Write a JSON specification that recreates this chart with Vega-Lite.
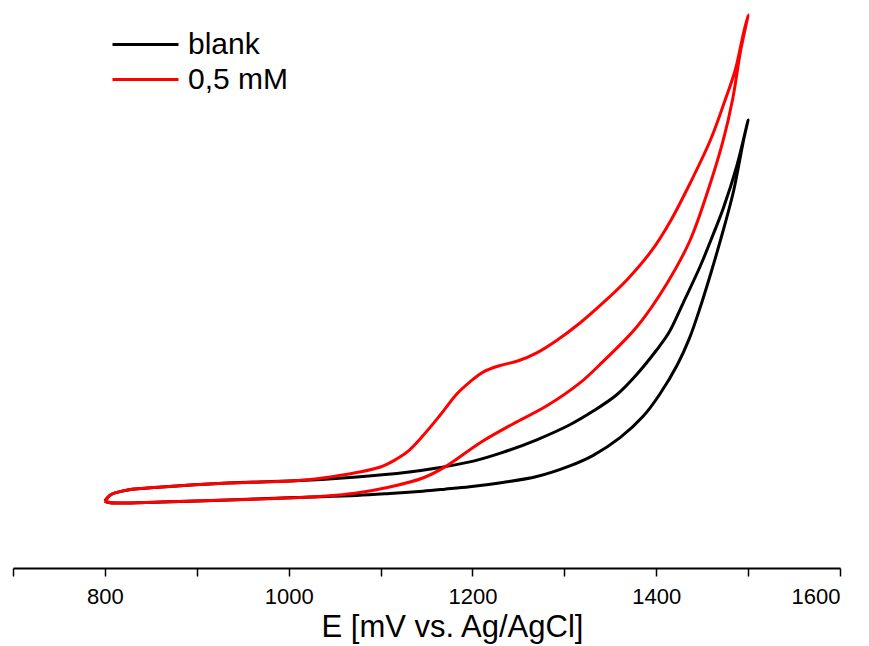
{
  "$schema": "https://vega.github.io/schema/vega-lite/v6.json",
  "width": 827,
  "height": 568,
  "padding": {"left": 13, "top": 0, "right": 29, "bottom": 78},
  "autosize": {"type": "none"},
  "background": "white",
  "config": {
    "view": {"stroke": null},
    "font": "Liberation Sans",
    "axis": {
      "grid": false,
      "domainColor": "black",
      "domainWidth": 2,
      "tickColor": "black",
      "tickWidth": 1.5,
      "tickSize": 8,
      "labelFont": "Liberation Sans",
      "labelFontSize": 22,
      "labelColor": "black",
      "labelPadding": 10,
      "titleFont": "Liberation Sans",
      "titleFontSize": 31,
      "titleFontWeight": "normal",
      "titleColor": "black",
      "titlePadding": 5
    },
    "legend": {
      "orient": "none",
      "legendX": 98,
      "legendY": 27,
      "symbolType": "stroke",
      "symbolSize": 4356,
      "symbolStrokeWidth": 3,
      "labelFont": "Liberation Sans",
      "labelFontSize": 30,
      "labelColor": "black",
      "labelOffset": 8,
      "clipHeight": 35,
      "rowPadding": 0
    }
  },
  "datasets": {
    "cv": [
      {"s": "blank", "i": 0, "E": 800, "I": 0.25},
      {"s": "blank", "i": 1, "E": 806, "I": 1.01},
      {"s": "blank", "i": 2, "E": 811, "I": 1.27},
      {"s": "blank", "i": 3, "E": 825, "I": 1.65},
      {"s": "blank", "i": 4, "E": 862, "I": 2.03},
      {"s": "blank", "i": 5, "E": 934, "I": 2.53},
      {"s": "blank", "i": 6, "E": 1007, "I": 2.8},
      {"s": "blank", "i": 7, "E": 1074, "I": 3.3},
      {"s": "blank", "i": 8, "E": 1129, "I": 3.9},
      {"s": "blank", "i": 9, "E": 1165, "I": 4.5},
      {"s": "blank", "i": 10, "E": 1201, "I": 5.3},
      {"s": "blank", "i": 11, "E": 1233, "I": 6.4},
      {"s": "blank", "i": 12, "E": 1270, "I": 8.0},
      {"s": "blank", "i": 13, "E": 1306, "I": 9.9},
      {"s": "blank", "i": 14, "E": 1331, "I": 11.6},
      {"s": "blank", "i": 15, "E": 1357, "I": 13.7},
      {"s": "blank", "i": 16, "E": 1379, "I": 16.3},
      {"s": "blank", "i": 17, "E": 1400, "I": 19.3},
      {"s": "blank", "i": 18, "E": 1414, "I": 21.6},
      {"s": "blank", "i": 19, "E": 1430, "I": 25.5},
      {"s": "blank", "i": 20, "E": 1448, "I": 30.0},
      {"s": "blank", "i": 21, "E": 1462, "I": 34.0},
      {"s": "blank", "i": 22, "E": 1473, "I": 37.3},
      {"s": "blank", "i": 23, "E": 1488, "I": 42.8},
      {"s": "blank", "i": 24, "E": 1500, "I": 48.48},
      {"s": "blank", "i": 25, "E": 1495, "I": 45.9},
      {"s": "blank", "i": 26, "E": 1484, "I": 39.4},
      {"s": "blank", "i": 27, "E": 1470, "I": 33.3},
      {"s": "blank", "i": 28, "E": 1460, "I": 29.3},
      {"s": "blank", "i": 29, "E": 1448, "I": 24.8},
      {"s": "blank", "i": 30, "E": 1436, "I": 20.8},
      {"s": "blank", "i": 31, "E": 1423, "I": 17.5},
      {"s": "blank", "i": 32, "E": 1404, "I": 13.8},
      {"s": "blank", "i": 33, "E": 1386, "I": 11.0},
      {"s": "blank", "i": 34, "E": 1361, "I": 8.3},
      {"s": "blank", "i": 35, "E": 1331, "I": 6.0},
      {"s": "blank", "i": 36, "E": 1306, "I": 4.7},
      {"s": "blank", "i": 37, "E": 1270, "I": 3.35},
      {"s": "blank", "i": 38, "E": 1233, "I": 2.6},
      {"s": "blank", "i": 39, "E": 1197, "I": 2.05},
      {"s": "blank", "i": 40, "E": 1170, "I": 1.75},
      {"s": "blank", "i": 41, "E": 1146, "I": 1.5},
      {"s": "blank", "i": 42, "E": 1110, "I": 1.2},
      {"s": "blank", "i": 43, "E": 1074, "I": 0.95},
      {"s": "blank", "i": 44, "E": 1007, "I": 0.7},
      {"s": "blank", "i": 45, "E": 934, "I": 0.38},
      {"s": "blank", "i": 46, "E": 862, "I": 0.13},
      {"s": "blank", "i": 47, "E": 811, "I": 0.0},
      {"s": "blank", "i": 48, "E": 802, "I": 0.13},
      {"s": "blank", "i": 49, "E": 800, "I": 0.25},
      {"s": "0,5 mM", "i": 0, "E": 800, "I": 0.25},
      {"s": "0,5 mM", "i": 1, "E": 806, "I": 1.01},
      {"s": "0,5 mM", "i": 2, "E": 811, "I": 1.27},
      {"s": "0,5 mM", "i": 3, "E": 825, "I": 1.65},
      {"s": "0,5 mM", "i": 4, "E": 862, "I": 2.03},
      {"s": "0,5 mM", "i": 5, "E": 934, "I": 2.53},
      {"s": "0,5 mM", "i": 6, "E": 1007, "I": 2.8},
      {"s": "0,5 mM", "i": 7, "E": 1037, "I": 3.16},
      {"s": "0,5 mM", "i": 8, "E": 1074, "I": 3.85},
      {"s": "0,5 mM", "i": 9, "E": 1100, "I": 4.56},
      {"s": "0,5 mM", "i": 10, "E": 1115, "I": 5.4},
      {"s": "0,5 mM", "i": 11, "E": 1129, "I": 6.46},
      {"s": "0,5 mM", "i": 12, "E": 1146, "I": 8.5},
      {"s": "0,5 mM", "i": 13, "E": 1165, "I": 11.14},
      {"s": "0,5 mM", "i": 14, "E": 1183, "I": 13.8},
      {"s": "0,5 mM", "i": 15, "E": 1197, "I": 15.3},
      {"s": "0,5 mM", "i": 16, "E": 1212, "I": 16.6},
      {"s": "0,5 mM", "i": 17, "E": 1230, "I": 17.4},
      {"s": "0,5 mM", "i": 18, "E": 1250, "I": 18.0},
      {"s": "0,5 mM", "i": 19, "E": 1270, "I": 19.0},
      {"s": "0,5 mM", "i": 20, "E": 1292, "I": 20.6},
      {"s": "0,5 mM", "i": 21, "E": 1317, "I": 22.78},
      {"s": "0,5 mM", "i": 22, "E": 1342, "I": 25.32},
      {"s": "0,5 mM", "i": 23, "E": 1368, "I": 28.23},
      {"s": "0,5 mM", "i": 24, "E": 1396, "I": 32.1},
      {"s": "0,5 mM", "i": 25, "E": 1416, "I": 35.8},
      {"s": "0,5 mM", "i": 26, "E": 1437, "I": 40.51},
      {"s": "0,5 mM", "i": 27, "E": 1459, "I": 45.95},
      {"s": "0,5 mM", "i": 28, "E": 1475, "I": 51.01},
      {"s": "0,5 mM", "i": 29, "E": 1486, "I": 54.81},
      {"s": "0,5 mM", "i": 30, "E": 1495, "I": 59.49},
      {"s": "0,5 mM", "i": 31, "E": 1500, "I": 61.77},
      {"s": "0,5 mM", "i": 32, "E": 1492, "I": 57.34},
      {"s": "0,5 mM", "i": 33, "E": 1483, "I": 51.01},
      {"s": "0,5 mM", "i": 34, "E": 1473, "I": 45.95},
      {"s": "0,5 mM", "i": 35, "E": 1459, "I": 40.51},
      {"s": "0,5 mM", "i": 36, "E": 1437, "I": 33.29},
      {"s": "0,5 mM", "i": 37, "E": 1412, "I": 27.85},
      {"s": "0,5 mM", "i": 38, "E": 1379, "I": 22.3},
      {"s": "0,5 mM", "i": 39, "E": 1342, "I": 17.9},
      {"s": "0,5 mM", "i": 40, "E": 1317, "I": 15.2},
      {"s": "0,5 mM", "i": 41, "E": 1281, "I": 12.3},
      {"s": "0,5 mM", "i": 42, "E": 1244, "I": 10.0},
      {"s": "0,5 mM", "i": 43, "E": 1208, "I": 7.6},
      {"s": "0,5 mM", "i": 44, "E": 1172, "I": 4.7},
      {"s": "0,5 mM", "i": 45, "E": 1146, "I": 3.16},
      {"s": "0,5 mM", "i": 46, "E": 1110, "I": 2.03},
      {"s": "0,5 mM", "i": 47, "E": 1074, "I": 1.27},
      {"s": "0,5 mM", "i": 48, "E": 1037, "I": 0.85},
      {"s": "0,5 mM", "i": 49, "E": 1002, "I": 0.63},
      {"s": "0,5 mM", "i": 50, "E": 934, "I": 0.38},
      {"s": "0,5 mM", "i": 51, "E": 862, "I": 0.13},
      {"s": "0,5 mM", "i": 52, "E": 811, "I": 0.0},
      {"s": "0,5 mM", "i": 53, "E": 802, "I": 0.13},
      {"s": "0,5 mM", "i": 54, "E": 800, "I": 0.25}
    ]
  },
  "layer": [
    {
      "data": {"name": "cv"},
      "mark": {"type": "line", "strokeWidth": 3, "interpolate": "catmull-rom", "clip": false},
      "encoding": {
        "x": {
          "field": "E",
          "type": "quantitative",
          "scale": {"domain": [700, 1600], "nice": false, "zero": false},
          "axis": {
            "title": "E [mV vs. Ag/AgCl]",
            "titleX": 439,
            "values": [700, 800, 900, 1000, 1100, 1200, 1300, 1400, 1500, 1600],
            "labelExpr": "datum.value % 200 == 0 ? datum.label : ''",
            "format": "d"
          }
        },
        "y": {
          "field": "I",
          "type": "quantitative",
          "scale": {"domain": [-8.23, 63.67], "nice": false, "zero": false},
          "axis": null
        },
        "color": {
          "field": "s",
          "type": "nominal",
          "sort": ["blank", "0,5 mM"],
          "scale": {"domain": ["blank", "0,5 mM"], "range": ["#000000", "#ff0000"]},
          "legend": {"title": null}
        },
        "order": {"field": "i", "type": "quantitative"}
      }
    },
    {
      "mark": {"type": "rule", "strokeWidth": 3, "color": "black"},
      "encoding": {
        "x": {"datum": 803.4},
        "y": {"datum": 6.46},
        "y2": {"datum": 16.46}
      }
    },
    {
      "mark": {"type": "text", "text": "10 µA", "align": "left", "baseline": "middle", "fontSize": 28, "font": "Liberation Sans", "color": "black"},
      "encoding": {
        "x": {"datum": 817},
        "y": {"datum": 11.6}
      }
    }
  ]
}
